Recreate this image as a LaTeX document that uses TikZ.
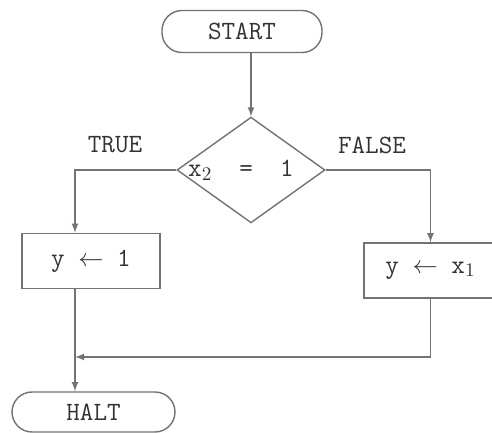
\documentclass[tikz,border=0pt]{standalone}
\usepackage{amsmath}
\usepackage{tikz}
\usetikzlibrary{positioning,calc,arrows,shapes}

\begin{document}
\begin{tikzpicture}[thick,
  >=latex, ->,
  draw=black!55,
  every node/.style={text=black!80,font=\fontsize{15}{18}\selectfont\ttfamily},
  Endnode/.style={draw=black!55,rounded corners=4mm,minimum height=8.4mm,inner sep=0pt},
  Testnode/.style={draw=black!55,diamond,minimum width=29.6mm,minimum height=19.2mm,inner sep=0pt},
  Setnode/.style={draw=black!55,rectangle,minimum height=11mm,inner sep=0pt}
]
\useasboundingbox (0,0) rectangle (9.84,-8.66);

% the vertices
\node[Endnode,minimum width=32mm] (start) at (4.84,-0.63) {START};
\node[Testnode] (test) at (5.02,-3.40) {\hspace{-4mm}x$_{2}$ \ = \ 1};
\node[Setnode,minimum width=27.6mm] (yone) at (1.82,-5.22) {y $\leftarrow$ 1};
\node[Setnode,minimum width=26.6mm] (yxone) at (8.61,-5.41) {y $\leftarrow$ x$_{1}$};
\node[Endnode,minimum width=32.6mm,minimum height=8mm] (halt) at (1.87,-8.24) {HALT};

% the labels
\node (true) at (2.30,-2.90) {TRUE};
\node (false) at (7.44,-2.90) {FALSE};

% the trunk on the left
\coordinate (trunk) at (1.50,-7.14);

% the edges
\draw (test.north |- start.south) -- (test.north);
\draw (test.west) -| (trunk |- yone.north);
\draw (test.east) -| (yxone.north);
\draw (yxone.south) |- (trunk);
\draw (trunk |- yone.south) -- (trunk |- halt.north);

\end{tikzpicture}
\end{document}
